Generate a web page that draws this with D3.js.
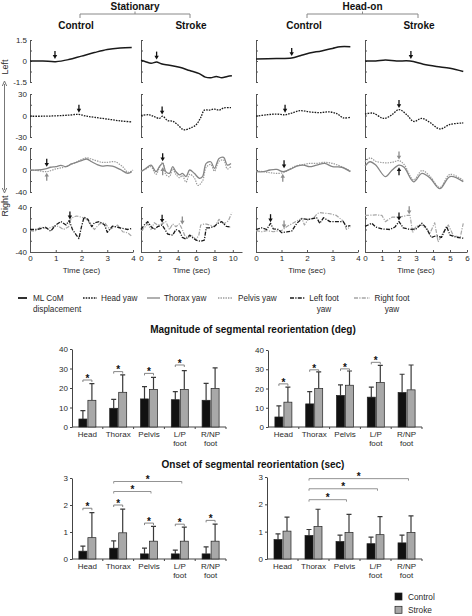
<!DOCTYPE html>
<html><head><meta charset="utf-8">
<script src="https://cdn.jsdelivr.net/npm/d3@7"></script>
<style>
body{margin:0;background:#fff;}
svg{display:block;font-family:"Liberation Sans",Arial,sans-serif;}
</style></head><body>
<svg id="c" width="472" height="616"></svg>
<script>
// ---------- DATA: time series ([time sec, value]) ----------
// Stationary – Control
const sc_com    = [[0,0],[0.5,0],[1,-0.05],[1.5,0.1],[2,0.35],[2.5,0.6],[3,0.82],[3.5,0.93],[3.95,0.97]];
const sc_head   = [[0,-1],[0.5,-1],[1,-0.5],[1.5,0.5],[1.9,1.5],[2.2,-1],[2.5,-2.5],[3,-5],[3.5,-7.5],[3.95,-9]];
const sc_thorax = [[0,0],[0.3,0],[0.6,2],[0.8,5],[1,6],[1.2,8.5],[1.4,6],[1.6,11],[1.8,14],[2,17],[2.2,20],[2.4,15],[2.6,10],[2.8,7],[3,8],[3.2,7],[3.5,1],[3.8,-6],[3.95,-3]];
const sc_pelvis = [[0,0],[0.3,-1],[0.65,-3],[1,2],[1.3,5],[1.5,8],[1.8,14],[2,19],[2.2,22],[2.5,18],[2.8,14],[3,14],[3.3,15],[3.6,6],[3.8,-4],[4,0]];
const sc_lfoot  = [[0,0],[0.3,0],[0.6,4],[0.8,-3],[1,8],[1.2,14],[1.4,8],[1.52,16],[1.65,0],[1.8,-10],[1.9,-16],[2.0,5],[2.1,22],[2.25,18],[2.4,5],[2.5,12],[2.7,14],[2.9,8],[3.0,-5],[3.2,6],[3.4,4],[3.6,2],[3.8,0],[3.95,2]];
const sc_rfoot  = [[0,-2],[0.2,-3],[0.4,4],[0.7,2],[0.9,5],[1.1,6],[1.3,0],[1.5,5],[1.6,20],[1.8,24],[2.0,22],[2.2,18],[2.5,0],[2.7,10],[2.9,12],[3.1,0],[3.4,8],[3.6,-4],[3.8,-6],[3.95,-12]];
// Stationary – Stroke
const ss_com    = [[0,0.05],[0.5,-0.05],[1.1,-0.16],[1.7,-0.07],[2.2,-0.2],[3.1,-0.3],[4.2,-0.45],[5.3,-0.68],[6.35,-0.9],[7,-1.15],[7.6,-1.2],[8.2,-1.1],[8.8,-1.2],[9.4,-1.1],[9.9,-1.05]];
const ss_head   = [[0,0],[0.9,1],[1.45,-1.7],[2,-4],[2.35,-1],[2.9,-7],[3.45,-8],[4,-13],[4.5,-19],[4.8,-20],[5.4,-17.5],[6,-13],[6.5,-3],[6.9,7.5],[7.4,7.5],[8,9],[8.5,7.5],[9,10.5],[9.8,11]];
const ss_thorax = [[0,-3],[0.54,3],[1.09,9],[1.63,-3],[2,6],[2.36,12],[2.7,-3],[3.1,-6],[3.45,6],[3.8,-3],[4.2,-9],[4.5,-6],[4.9,-12],[5.3,0],[5.8,-6],[6.35,-15],[6.7,-12],[7.1,12],[7.6,15],[8,3],[8.5,21],[9,23],[9.4,9],[9.8,12]];
const ss_pelvis = [[0,-2],[0.54,2],[1.09,6],[1.63,-8],[2,4],[2.36,14],[2.7,-8],[3.1,-12],[3.45,2],[3.8,-8],[4.2,-14],[4.5,-10],[4.9,-22],[5.3,-8],[5.8,-14],[6.2,-28],[6.7,-20],[7.1,5],[7.6,10],[8,-2],[8.5,16],[9,18],[9.4,2],[9.8,6]];
const ss_lfoot  = [[0,0],[0.36,8],[0.73,14],[1.09,5.5],[1.45,0],[1.8,5],[2.29,8],[2.5,3],[2.9,-8],[3.45,-10],[3.8,0],[4.2,-3],[4.5,-14],[4.9,-17],[5.3,-10],[5.6,-14],[6,-19],[6.5,-21],[6.9,-19],[7.1,3],[7.44,3],[8,5.5],[8.35,11],[8.8,14],[9.3,5.5],[9.8,4.4]];
const ss_rfoot  = [[0,-3],[0.36,3],[0.73,10],[1.09,0],[1.45,12],[1.8,8],[2.29,10],[2.7,14],[3.1,0],[3.45,10],[3.8,5],[4.2,10],[4.5,0],[4.8,-12],[5.1,-15],[5.5,-10],[6,-18],[6.3,-10],[6.5,8],[7,10],[7.5,8],[8,5],[8.5,18],[9,10],[9.5,15],[9.9,30]];
// Head-on – Control
const hc_com    = [[0,0.15],[0.8,0.18],[1.4,0.22],[1.73,0.38],[2.1,0.57],[2.57,0.72],[3.0,0.9],[3.3,1.02],[3.7,1.02]];
const hc_head   = [[0,-1],[0.42,1],[0.81,2],[1.14,1],[1.4,3.3],[1.73,6.7],[2.1,5],[2.5,4],[2.9,5],[3.2,2],[3.42,-3.3],[3.7,-2.5]];
const hc_thorax = [[0,-3],[0.29,-3],[0.55,0],[0.81,1],[1.07,-3],[1.33,1],[1.6,7],[1.86,9],[2.1,6],[2.38,9],[2.7,12],[3.0,6],[3.36,5],[3.7,-3]];
const hc_pelvis = [[0,-2],[0.29,-3],[0.55,-5],[0.81,-6],[1.07,-5],[1.33,2],[1.6,8],[1.86,10],[2.1,12],[2.38,12],[2.7,14],[3.0,12],[3.36,6],[3.7,-2]];
const hc_lfoot  = [[0,0],[0.22,3],[0.42,0],[0.57,11],[0.68,1],[0.88,0],[1.0,-5.5],[1.2,-4.4],[1.4,-3],[1.6,11],[1.8,19],[2.05,18],[2.38,21],[2.5,11],[2.65,21],[2.9,14],[3.15,14],[3.42,14],[3.55,5.5],[3.7,6.7]];
const hc_rfoot  = [[0,-2],[0.22,-4],[0.42,-2],[0.68,-4],[0.88,-2],[1.0,-2],[1.2,5],[1.4,10],[1.6,15],[1.8,20],[1.9,8],[2.05,18],[2.25,20],[2.4,28],[2.5,30],[2.9,28],[3.15,25],[3.42,15],[3.55,0],[3.7,5]];
// Head-on – Stroke
const hs_com    = [[0,0],[0.63,0],[1.2,0.07],[1.86,0],[2.65,0],[3.43,-0.23],[4.2,-0.39],[5.0,-0.52],[5.78,-0.75]];
const hs_head   = [[0,2],[0.48,3.3],[0.98,-3.3],[1.18,-4],[1.57,0.8],[2.0,8.3],[2.47,0.8],[2.86,-8.3],[3.35,-4],[3.84,-10],[4.4,-18.8],[5.0,-12.5],[5.78,-10.4]];
const hs_thorax = [[0,7],[0.3,15],[0.63,9],[1.2,-12],[1.6,0],[2.0,9],[2.3,5],[2.86,-21.5],[3.35,-6],[3.84,-15],[4.4,-34],[5.0,-12],[5.78,-21.5]];
const hs_pelvis = [[0,15],[0.3,22],[0.63,16],[1.2,13],[1.6,14],[2.0,17],[2.3,10],[2.86,-18],[3.35,-1],[3.84,-12],[4.4,-32],[5.0,-8],[5.78,-19]];
const hs_lfoot  = [[0,5.5],[0.4,11],[0.63,4.4],[1.0,1],[1.47,0],[1.76,4.4],[2.0,14],[2.25,3],[2.65,0],[3.0,1],[3.35,11],[3.6,3],[3.9,-14],[4.2,-11],[4.5,-14],[4.8,5.5],[5.0,-10],[5.4,-14],[5.78,-15.5]];
const hs_rfoot  = [[0,25],[0.63,26],[1.0,25],[1.2,14],[1.6,22],[2.0,22],[2.47,25],[2.65,25],[2.8,-5.5],[3.0,5.5],[3.35,8],[3.84,-5.5],[4.1,12],[4.3,-22],[4.6,-5.5],[4.9,8],[5.2,-11],[5.6,-14],[5.78,11]];

// reorientation onset arrows: panel, row, time, tip value, direction, colour
const arrowsData = [
 ['sc',0,0.97,0.15,'down','k'],['sc',1,1.9,4,'down','k'],['sc',2,0.65,6,'down','k'],['sc',2,0.65,-5,'up','g'],['sc',3,1.55,18,'down','k'],
 ['ss',0,1.7,0.1,'down','k'],['ss',1,2.3,1.5,'down','k'],['ss',2,2.36,16,'down','k'],['ss',2,2.36,5,'up','g'],['ss',3,2.3,12,'down','k'],['ss',3,4.5,9,'down','g'],
 ['hc',0,1.4,0.35,'down','k'],['hc',1,1.14,4,'down','k'],['hc',2,1.1,3,'down','k'],['hc',2,1.05,-7,'up','g'],['hc',3,0.57,13,'down','k'],['hc',3,1.1,2,'down','g'],
 ['hs',0,2.7,0.15,'down','k'],['hs',1,2.0,10.5,'down','k'],['hs',2,2.0,19,'down','g'],['hs',2,2.0,5,'up','k'],['hs',3,2.0,16,'down','k'],['hs',3,2.6,27,'down','g']
];

const groupTitles = ["Stationary","Head-on"];
const colTitles = ["Control","Stroke","Control","Stroke"];
const timeTicks = [[0,1,2,3,4],[0,2,4,6,8,10],[0,1,2,3,4],[0,1,2,3,4,5,6]];
const timeDomains = [[0,4],[0,11],[0,4],[0,6]];
const rowDomains = [[-1.5,1.5],[-30,30],[-40,40],[-40,40]];
const rowTickLabels = [["1.5","0","-1.5"],["30","0","-30"],["40","0","-40"],["40","0","-40"]];
const legendLabels = [["ML CoM","displacement"],["Head yaw"],["Thorax yaw"],["Pelvis yaw"],["Left foot","yaw"],["Right foot","yaw"]];

// ---------- DATA: bar charts ----------
const categories = [["Head"],["Thorax"],["Pelvis"],["L/P","foot"],["R/NP","foot"]];
const magStatCtrl     = [4.1, 9.6, 14.4, 14.0, 13.7];
const magStatCtrlTop  = [8.4, 14.2, 20.7, 18.1, 22.4];
const magStatStroke   = [13.7, 17.8, 19.3, 19.3, 19.8];
const magStatStrokeTop= [22.2, 26.7, 25.5, 28.9, 30.3];
const magStatSig      = [24.1, 28.4, 27.5, 31.8, null];
const magHeadCtrl     = [5.2, 12.0, 16.4, 15.5, 17.9];
const magHeadCtrlTop  = [11.0, 18.4, 21.9, 20.7, 27.4];
const magHeadStroke   = [12.9, 20.0, 21.7, 23.1, 19.3];
const magHeadStrokeTop= [20.7, 28.6, 29.1, 32.0, 32.2];
const magHeadSig      = [22.4, 29.7, 30.2, 33.6, null];
const onsStatCtrl     = [0.29, 0.40, 0.19, 0.19, 0.19];
const onsStatCtrlTop  = [0.48, 0.67, 0.40, 0.33, 0.45];
const onsStatStroke   = [0.79, 0.97, 0.66, 0.66, 0.66];
const onsStatStrokeTop= [1.72, 1.85, 1.21, 1.18, 1.29];
const onsStatSig      = [1.88, 2.0, 1.33, 1.29, 1.43];
const onsStatCross    = [[1,2,2.5],[1,3,2.87]];
const onsHeadCtrl     = [0.71, 0.86, 0.64, 0.56, 0.59];
const onsHeadCtrlTop  = [0.92, 1.08, 0.87, 0.80, 0.87];
const onsHeadStroke   = [1.02, 1.19, 0.97, 0.89, 0.97];
const onsHeadStrokeTop= [1.53, 1.82, 1.63, 1.55, 1.58];
const onsHeadSig      = [null, null, null, null, null];
const onsHeadCross    = [[1,2,2.17],[1,3,2.57],[1,4,2.94]];
const magTicks = [0,10,20,30,40];
const onsTicks = [0,1,2,3];
const barTitles = ["Magnitude of segmental reorientation (deg)","Onset of segmental reorientation (sec)"];
const groupLegend = ["Control","Stroke"];

// ---------- DRAW ----------
const svg = d3.select('#c');
const TXT = '#2a2a2a';
const panels = {
 sc:{com:sc_com,head:sc_head,thorax:sc_thorax,pelvis:sc_pelvis,lfoot:sc_lfoot,rfoot:sc_rfoot},
 ss:{com:ss_com,head:ss_head,thorax:ss_thorax,pelvis:ss_pelvis,lfoot:ss_lfoot,rfoot:ss_rfoot},
 hc:{com:hc_com,head:hc_head,thorax:hc_thorax,pelvis:hc_pelvis,lfoot:hc_lfoot,rfoot:hc_rfoot},
 hs:{com:hs_com,head:hs_head,thorax:hs_thorax,pelvis:hs_pelvis,lfoot:hs_lfoot,rfoot:hs_rfoot}
};
const panelKeys = ['sc','ss','hc','hs'];
const colX = [[30,133],[141,242],[256,358],[365,467]];
const rowY = [[82,40],[137,94],[192,148],[252,207]];
const seriesRow = {com:0,head:1,thorax:2,pelvis:2,lfoot:3,rfoot:3};
const sty = {
 com:   {c:'#1a1a1a', w:1.5, d:null, curve:d3.curveCatmullRom},
 head:  {c:'#1a1a1a', w:1.3, d:'1.6,1.1', curve:d3.curveCatmullRom},
 thorax:{c:'#858585', w:1.3, d:null, curve:d3.curveCatmullRom},
 pelvis:{c:'#9a9a9a', w:1.2, d:'1.4,1.1', curve:d3.curveCatmullRom},
 lfoot: {c:'#1a1a1a', w:1.3, d:'4,1.3,1.2,1.3', curve:d3.curveLinear},
 rfoot: {c:'#a5a5a5', w:1.2, d:'4,1.3,1.2,1.3', curve:d3.curveLinear}
};

// group headers
const gCenters = [[80,190],[307,418]];
groupTitles.forEach((t,i)=>{
  const [a,b] = gCenters[i], m=(a+b)/2;
  svg.append('text').attr('x',m).attr('y',10).attr('text-anchor','middle')
    .attr('font-size',10).attr('font-weight','bold').attr('fill','#111').text(t);
  svg.append('path').attr('d',`M${a},18V14H${b}V18M${m},14V11.5`).attr('fill','none').attr('stroke','#888').attr('stroke-width',1);
});
const colTitleX = [76,191,304,419];
colTitles.forEach((t,i)=>svg.append('text').attr('x',colTitleX[i]).attr('y',29).attr('text-anchor','middle')
  .attr('font-size',10).attr('font-weight','bold').attr('fill','#111').text(t));

// time-series panels
panelKeys.forEach((pk,ci)=>{
  const x = d3.scaleLinear().domain(timeDomains[ci]).range(colX[ci]);
  const ys = rowDomains.map((d,ri)=>d3.scaleLinear().domain(d).range(rowY[ri]));
  ys.forEach((y,ri)=>{
    const d = rowDomains[ri];
    const tv = [d[1],d[1]/2,0,d[0]/2,d[0]];
    const ax = d3.axisLeft(y).tickValues(tv).tickSizeInner(-2).tickSizeOuter(0).tickPadding(3)
      .tickFormat(v=>{ if(ci!==0) return ''; const k=[d[1],0,d[0]].indexOf(v); return k<0?'':rowTickLabels[ri][k];});
    const g = svg.append('g').attr('transform',`translate(${colX[ci][0]},0)`).call(ax);
    g.select('.domain').attr('stroke','#555');
    g.selectAll('.tick line').attr('stroke','#555');
    g.selectAll('text').attr('font-size',8).attr('fill',TXT).attr('font-family','Liberation Sans, Arial, sans-serif');
  });
  // bottom axis
  const bx = d3.axisBottom(x).tickValues(timeTicks[ci]).tickSizeInner(-2).tickSizeOuter(0).tickPadding(3).tickFormat(d3.format('d'));
  const gb = svg.append('g').attr('transform',`translate(0,${rowY[3][0]})`).call(bx);
  gb.select('.domain').attr('stroke','#555');
  gb.selectAll('.tick line').attr('stroke','#555');
  gb.selectAll('text').attr('font-size',8).attr('fill',TXT).attr('font-family','Liberation Sans, Arial, sans-serif');
  svg.append('text').attr('x',(colX[ci][0]+colX[ci][1])/2).attr('y',273).attr('text-anchor','middle')
    .attr('font-size',8).attr('fill',TXT).text('Time (sec)');
  // lines (draw order: gray first, black on top)
  ['rfoot','pelvis','thorax','com','head','lfoot'].forEach(s=>{
    const st = sty[s], y = ys[seriesRow[s]];
    const line = d3.line().x(p=>x(p[0])).y(p=>y(p[1])).curve(st.curve);
    svg.append('path').datum(panels[pk][s]).attr('d',line).attr('fill','none')
      .attr('stroke',st.c).attr('stroke-width',st.w).attr('stroke-dasharray',st.d)
      .attr('stroke-linejoin','round');
  });
  // arrows
  arrowsData.filter(a=>a[0]===pk).forEach(a=>{
    const ax_ = x(a[2]), ay = ys[a[1]](a[3]);
    const s = a[4]==='down'?1:-1;
    const col = a[5]==='k'?'#111':'#8c8c8c';
    svg.append('path').attr('d',`M${ax_},${ay-8*s}V${ay-3*s}`).attr('stroke',col).attr('stroke-width',1.3);
    svg.append('path').attr('d',`M${ax_},${ay}L${ax_-2.2},${ay-3.8*s}L${ax_+2.2},${ay-3.8*s}Z`).attr('fill',col);
  });
});

// Left / Right side label
svg.append('path').attr('d','M4.5,84V190').attr('stroke','#777').attr('stroke-width',1);
svg.append('path').attr('d','M4.5,81L2.3,86M4.5,81L6.7,86').attr('stroke','#777').attr('stroke-width',1).attr('fill','none');
svg.append('path').attr('d','M4.5,193L2.3,188M4.5,193L6.7,188').attr('stroke','#777').attr('stroke-width',1).attr('fill','none');
svg.append('text').attr('transform','translate(8,67) rotate(-90)').attr('text-anchor','middle')
  .attr('font-size',9).attr('fill',TXT).text('Left');
svg.append('text').attr('transform','translate(8,206) rotate(-90)').attr('text-anchor','middle')
  .attr('font-size',9).attr('fill',TXT).text('Right');

// line legend
const legKeys = ['com','head','thorax','pelvis','lfoot','rfoot'];
const legPos = [[18,27,33,'start'],[83,97,101,'start'],[147,160,164,'start'],[218,233,238,'start'],[290,305,324,'middle'],[354,370,392,'middle']];
legKeys.forEach((k,i)=>{
  const st = sty[k], p = legPos[i];
  svg.append('path').attr('d',`M${p[0]},298H${p[1]}`).attr('stroke',st.c).attr('stroke-width',k==='com'?1.8:1.3)
    .attr('stroke-dasharray',st.d);
  legendLabels[i].forEach((t,j)=>svg.append('text').attr('x',p[2]).attr('y',301+j*10.5)
    .attr('text-anchor',p[3]).attr('font-size',8.2).attr('fill',TXT).text(t));
});

// titles
svg.append('text').attr('x',253).attr('y',333).attr('text-anchor','middle').attr('font-size',10)
  .attr('font-weight','bold').attr('fill','#111').text(barTitles[0]);
svg.append('text').attr('x',253).attr('y',468).attr('text-anchor','middle').attr('font-size',10)
  .attr('font-weight','bold').attr('fill','#111').text(barTitles[1]);

function barChart(o){
  const x = d3.scaleBand().domain(d3.range(categories.length)).range([o.x0,o.x1]);
  const y = d3.scaleLinear().domain([0,o.max]).range([o.y0,o.yTop]);
  const ay = d3.axisLeft(y).tickValues(o.ticks).tickSizeInner(2).tickSizeOuter(0).tickPadding(2).tickFormat(d3.format('d'));
  const g = svg.append('g').attr('transform',`translate(${o.x0},0)`).call(ay);
  g.select('.domain').attr('stroke','#444');
  g.selectAll('.tick line').attr('stroke','#444');
  g.selectAll('text').attr('font-size',8).attr('fill',TXT).attr('font-family','Liberation Sans, Arial, sans-serif');
  // x baseline and boundary ticks
  svg.append('path').attr('d',`M${o.x0},${o.y0}H${o.x1}`).attr('stroke','#444');
  d3.range(1,categories.length+1).forEach(i=>{
    const bx = o.x0 + x.step()*i;
    svg.append('path').attr('d',`M${bx},${o.y0}V${o.y0+2}`).attr('stroke','#444');
  });
  const bw = 8;
  const cx = i=>x(i)+x.bandwidth()/2;
  const series = [[o.ctrl,o.ctrlTop,'#111',-bw-0.5],[o.stroke,o.strokeTop,'#a8a8a8',0.5]];
  series.forEach(([v,top,fill,off])=>{
    v.forEach((val,i)=>{
      const bx = cx(i)+off, mid = bx+bw/2;
      svg.append('path').attr('d',`M${mid},${y(val)}V${y(top[i])}M${mid-2.5},${y(top[i])}H${mid+2.5}`)
        .attr('stroke','#3a3a3a').attr('stroke-width',1.2);
      svg.append('rect').attr('x',bx).attr('y',y(val)).attr('width',bw).attr('height',o.y0-y(val))
        .attr('fill',fill).attr('stroke','#222').attr('stroke-width',0.7);
    });
  });
  // category labels
  categories.forEach((lines,i)=>lines.forEach((t,j)=>svg.append('text').attr('x',cx(i)).attr('y',o.y0+10+j*9)
    .attr('text-anchor','middle').attr('font-size',8).attr('fill',TXT).text(t)));
  // pair significance
  o.sig.forEach((s,i)=>{
    if(s==null) return;
    const a = cx(i)-bw/2-0.5, b = cx(i)+bw/2+0.5, yy = y(s);
    svg.append('path').attr('d',`M${a},${yy+2}V${yy}H${b}V${yy+2}`).attr('fill','none').attr('stroke','#777').attr('stroke-width',0.9);
    svg.append('text').attr('x',(a+b)/2).attr('y',yy+1.8).attr('text-anchor','middle').attr('font-size',10)
      .attr('font-weight','bold').attr('fill','#111').text('*');
  });
  (o.cross||[]).forEach(([f,t,s])=>{
    const a = cx(f)-bw/2-0.5, b = cx(t)+2, yy = y(s);
    svg.append('path').attr('d',`M${a},${yy+2}V${yy}H${b}V${yy+2}`).attr('fill','none').attr('stroke','#888').attr('stroke-width',0.9);
    svg.append('text').attr('x',(a+b)/2).attr('y',yy+1.5).attr('text-anchor','middle').attr('font-size',10)
      .attr('font-weight','bold').attr('fill','#111').text('*');
  });
}
barChart({x0:72,x1:226,y0:427,yTop:349,max:40,ticks:magTicks,ctrl:magStatCtrl,ctrlTop:magStatCtrlTop,stroke:magStatStroke,strokeTop:magStatStrokeTop,sig:magStatSig});
barChart({x0:268,x1:422,y0:427,yTop:350,max:40,ticks:magTicks,ctrl:magHeadCtrl,ctrlTop:magHeadCtrlTop,stroke:magHeadStroke,strokeTop:magHeadStrokeTop,sig:magHeadSig});
barChart({x0:72,x1:226,y0:559,yTop:478,max:3,ticks:onsTicks,ctrl:onsStatCtrl,ctrlTop:onsStatCtrlTop,stroke:onsStatStroke,strokeTop:onsStatStrokeTop,sig:onsStatSig,cross:onsStatCross});
barChart({x0:267,x1:422,y0:559,yTop:477,max:3,ticks:onsTicks,ctrl:onsHeadCtrl,ctrlTop:onsHeadCtrlTop,stroke:onsHeadStroke,strokeTop:onsHeadStrokeTop,sig:onsHeadSig,cross:onsHeadCross});

// group legend
const legFill = ['#111','#a8a8a8'];
groupLegend.forEach((t,i)=>{
  svg.append('rect').attr('x',395).attr('y',593+i*13.3).attr('width',7).attr('height',7)
    .attr('fill',legFill[i]).attr('stroke','#222').attr('stroke-width',0.7);
  svg.append('text').attr('x',408).attr('y',599.5+i*13.3).attr('font-size',8.3).attr('fill',TXT).text(t);
});
</script>
</body></html>
